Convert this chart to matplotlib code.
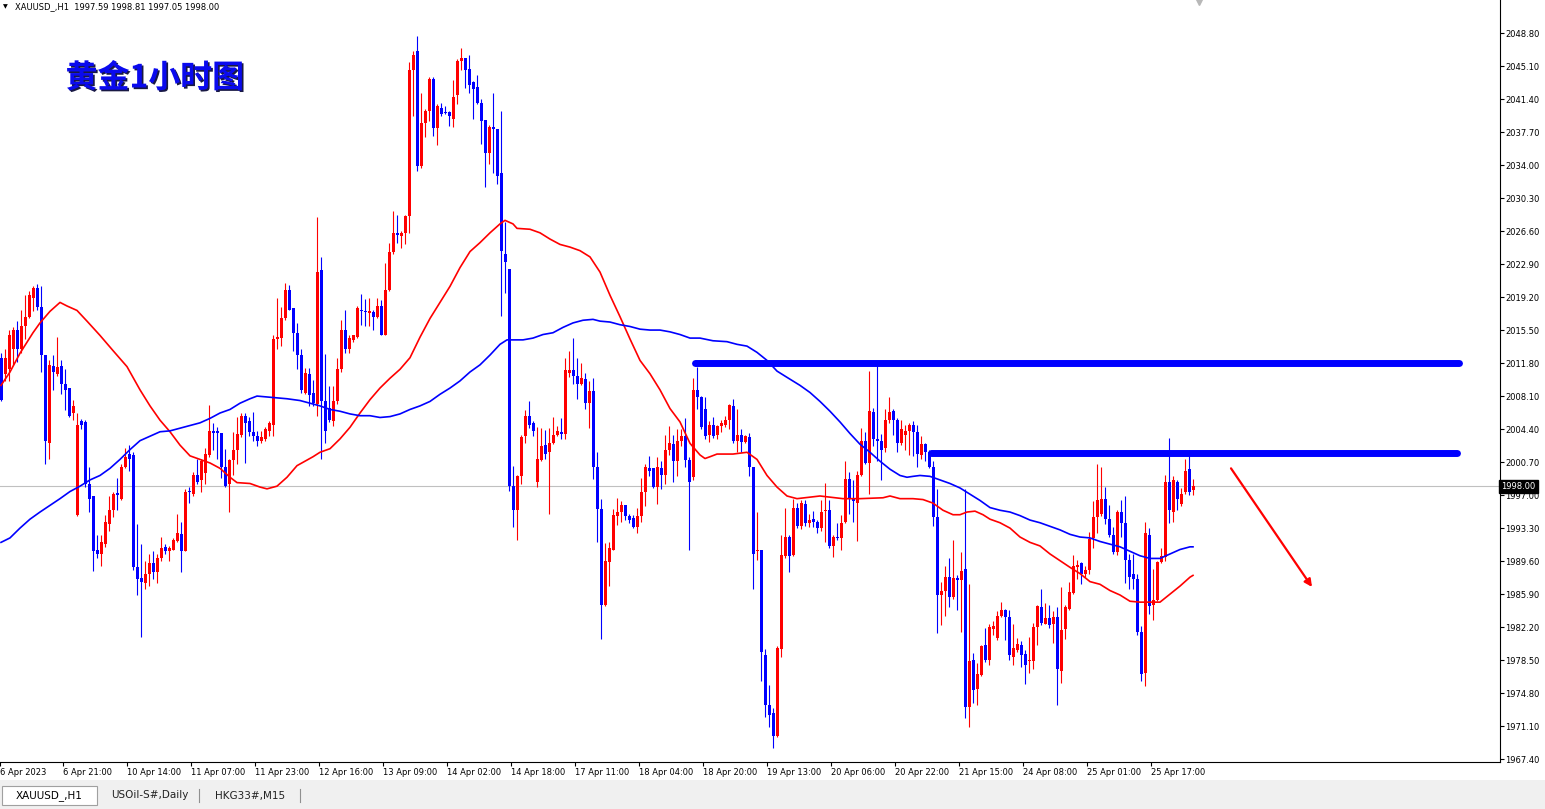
import matplotlib
matplotlib.use('Agg')
import matplotlib.pyplot as plt
import matplotlib.patheffects as pe
from matplotlib.patches import Rectangle
import numpy as np

# XAUUSD H1 candles (price units)
opens = [
    2012.4, 2010.6, 2011.1, 2013.4, 2015.5, 2013.4, 2016.0, 2017.0, 2019.1, 2020.2,
    2018.1, 2012.7, 2002.8, 2011.5, 2010.6, 2011.5, 2009.5, 2009.0, 2006.2, 1994.8,
    2005.3, 2005.2, 1998.2, 1996.9, 1990.8, 1990.4, 1991.5, 1993.8, 1995.3, 1997.2,
    1996.6, 2000.2, 2001.6, 2001.5, 1988.9, 1987.7, 1987.2, 1988.1, 1989.4, 1988.4,
    1989.9, 1991.2, 1990.7, 1990.9, 1991.8, 1992.6, 1990.7, 1997.5, 1997.1, 1999.2,
    1998.7, 1999.5, 2001.5, 2004.2, 2004.2, 2004.0, 2000.1, 1998.2, 2000.9, 2002.0,
    2003.7, 2005.9, 2005.3, 2004.1, 2003.6, 2003.1, 2003.3, 2004.2, 2004.9, 2014.5,
    2014.6, 2016.8, 2020.0, 2018.0, 2015.2, 2012.7, 2008.5, 2010.6, 2008.5, 2007.2,
    2022.2, 2007.5, 2006.8, 2005.3, 2007.5, 2011.1, 2015.5, 2013.4, 2014.4, 2014.7,
    2017.8, 2017.6, 2017.4, 2017.5, 2017.0, 2018.2, 2015.0, 2020.0, 2024.2, 2026.4,
    2026.1, 2026.4, 2028.3, 2044.7, 2046.8, 2033.9, 2038.75, 2040.05, 2043.7, 2038.1,
    2040.4, 2039.9, 2039.9, 2039.2, 2041.9, 2045.7, 2046.0, 2044.8, 2043.3, 2042.8,
    2041.0, 2039.0, 2035.4, 2038.3, 2038.0, 2033.1, 2024.0, 2022.4, 1998.0, 1995.3,
    1999.1, 2003.6, 2005.9, 2005.1, 1998.5, 2000.9, 2002.6, 2001.8, 2002.8, 2003.7,
    2004.1, 2003.9, 2010.7, 2011.0, 2010.3, 2009.4, 2010.0, 2007.3, 2008.7, 2000.1,
    1995.4, 1984.7, 1989.5, 1990.9, 1994.7, 1995.1, 1995.85, 1994.7, 1994.4, 1993.4,
    1994.7, 1997.4, 2000.0, 2000.0, 1997.9, 2000.0, 1999.2, 2002.0, 2002.7, 2000.8,
    2003.1, 2003.6, 2000.9, 1999.0, 2008.8, 2008.0, 2006.7, 2003.7, 2004.9, 2003.7,
    2004.7, 2004.9, 2005.4, 2007.0, 2003.1, 2003.7, 2003.0, 2003.5, 2000.1, 1990.7,
    1990.9, 1979.05, 1973.5, 1972.6, 1970.0, 1979.8, 1990.2, 1992.3, 1990.3, 1995.6,
    1993.5, 1996.0, 1993.9, 1994.3, 1994.0, 1993.3, 1995.2, 1995.3, 1991.3, 1992.3,
    1992.2, 1994.0, 1998.85, 1996.6, 1996.1, 1999.2, 2003.1, 2000.6, 2006.3, 2003.3,
    2003.1, 2002.3, 2005.4, 2006.45, 2005.4, 2002.8, 2003.7, 2004.2, 2004.9, 2004.1,
    2001.5, 2002.7, 2001.8, 2000.2, 1994.6, 1985.8, 1986.3, 1987.8, 1985.6, 1987.7,
    1987.5, 1988.7, 1973.2, 1978.5, 1975.3, 1976.8, 1980.2, 1978.5, 1982.0, 1981.0,
    1983.4, 1984.1, 1983.3, 1978.9, 1979.6, 1980.2, 1979.2, 1978.4, 1978.4, 1982.2,
    1984.5, 1982.5, 1983.2, 1982.5, 1983.3, 1977.3, 1982.0, 1984.2, 1986.0, 1988.9,
    1989.4, 1988.2, 1988.6, 1992.2, 1994.6, 1994.9, 1996.6, 1994.3, 1992.5, 1990.6,
    1995.1, 1993.9, 1989.75, 1988.1, 1987.6, 1981.6, 1977.1, 1992.5, 1984.7, 1985.25,
    1989.5, 1990.1, 1998.5, 1995.1, 1998.5, 1996.0, 1997.3, 1999.9, 1997.59,
]
highs = [
    2012.9, 2013.4, 2015.5, 2015.8, 2016.5, 2017.8, 2019.4, 2019.9, 2020.4, 2020.7,
    2020.4, 2012.7, 2012.1, 2012.7, 2014.7, 2012.1, 2011.1, 2009.0, 2007.7, 2006.2,
    2005.5, 2005.4, 2000.2, 1996.9, 1992.5, 1992.5, 1994.8, 1996.9, 1997.4, 1998.9,
    2000.5, 2002.3, 2002.6, 2001.8, 1993.8, 1991.5, 1989.65, 1990.4, 1990.7, 1990.4,
    1992.3, 1991.5, 1991.3, 1992.2, 1994.9, 1994.0, 1997.7, 1997.9, 1999.6, 2001.0,
    2001.0, 2002.3, 2007.1, 2005.1, 2004.6, 2004.0, 2002.2, 2001.0, 2004.1, 2005.8,
    2006.2, 2006.2, 2005.7, 2006.3, 2004.2, 2004.2, 2004.6, 2005.3, 2014.9, 2019.1,
    2018.1, 2020.8, 2020.6, 2018.0, 2016.3, 2013.4, 2011.2, 2011.2, 2009.9, 2028.2,
    2023.7, 2012.8, 2009.2, 2009.2, 2012.4, 2016.6, 2017.8, 2014.9, 2015.0, 2018.2,
    2019.5, 2019.0, 2019.1, 2017.7, 2019.1, 2018.9, 2023.0, 2025.3, 2028.9, 2028.4,
    2026.6, 2028.4, 2045.6, 2046.8, 2048.5, 2042.1, 2040.3, 2043.9, 2043.9, 2040.8,
    2040.9, 2040.6, 2040.05, 2043.5, 2045.9, 2047.1, 2046.0, 2046.3, 2043.4, 2044.1,
    2041.35, 2039.0, 2038.5, 2042.1, 2038.0, 2040.05, 2027.6, 2022.4, 2000.3, 1999.2,
    2003.7, 2006.5, 2007.5, 2005.3, 2004.6, 2004.5, 2004.3, 2004.5, 2005.8, 2004.7,
    2005.6, 2012.4, 2013.2, 2014.6, 2012.4, 2011.8, 2010.7, 2009.8, 2010.1, 2001.8,
    1996.6, 1991.6, 1991.7, 1995.4, 1996.7, 1996.3, 1995.85, 1994.9, 1994.8, 1995.6,
    1998.95, 2000.5, 2001.4, 2000.0, 2001.3, 2000.8, 2003.7, 2004.7, 2003.7, 2004.4,
    2004.4, 2005.6, 2001.3, 2010.1, 2011.4, 2008.1, 2008.0, 2005.3, 2005.8, 2004.9,
    2005.4, 2005.9, 2007.2, 2007.8, 2006.6, 2004.4, 2003.7, 2004.0, 2000.2, 1995.1,
    1990.9, 1979.8, 1975.7, 1973.1, 1980.1, 1992.5, 1995.6, 1992.5, 1996.6, 1996.1,
    1996.4, 1996.4, 1994.9, 1995.2, 1994.2, 1996.4, 1998.3, 1996.4, 1992.5, 1993.9,
    1994.8, 2000.8, 1999.6, 1998.7, 1999.7, 2004.5, 2004.1, 2010.95, 2006.8, 2012.0,
    2003.9, 2006.6, 2008.0, 2006.6, 2005.6, 2005.4, 2004.9, 2005.1, 2005.3, 2004.9,
    2003.6, 2002.8, 2002.0, 2000.8, 1997.7, 1987.3, 1989.0, 1989.9, 1992.0, 1988.0,
    1990.6, 1997.7, 1987.0, 1979.3, 1978.2, 1980.2, 1982.1, 1982.5, 1982.9, 1984.0,
    1985.0, 1984.2, 1984.1, 1982.5, 1981.0, 1980.6, 1979.6, 1981.1, 1982.7, 1984.7,
    1986.5, 1984.9, 1984.7, 1984.0, 1984.5, 1986.7, 1984.7, 1987.3, 1990.3, 1989.75,
    1989.5, 1989.0, 1992.85, 1996.3, 2000.5, 2000.2, 1997.9, 1995.85, 1993.4, 1995.3,
    1996.5, 1996.9, 1990.4, 1990.4, 1988.1, 1982.3, 1994.0, 1993.3, 1988.7, 1989.65,
    1991.1, 1999.2, 2003.35, 1999.1, 1998.7, 1997.8, 2001.1, 2002.05, 1998.81,
]
lows = [
    2007.5, 2009.8, 2009.8, 2011.6, 2011.9, 2012.9, 2014.5, 2016.8, 2017.6, 2017.8,
    2010.8, 2000.5, 2001.0, 2008.8, 2010.3, 2008.3, 2006.5, 2005.7, 2005.4, 1994.7,
    2004.4, 1997.9, 1995.1, 1988.5, 1989.9, 1989.1, 1991.2, 1993.0, 1994.6, 1995.3,
    1996.4, 2000.0, 1999.7, 1988.6, 1985.8, 1981.1, 1986.5, 1986.8, 1987.6, 1987.1,
    1989.65, 1990.4, 1989.65, 1990.8, 1991.7, 1988.4, 1990.7, 1996.1, 1996.9, 1998.2,
    1997.4, 1998.2, 2001.3, 2002.1, 2001.1, 1998.9, 1997.9, 1995.1, 1999.2, 2000.5,
    2003.5, 2000.6, 2003.6, 2003.1, 2002.5, 2002.8, 2003.1, 2003.6, 2003.6, 2013.4,
    2013.7, 2016.6, 2017.7, 2013.2, 2011.1, 2008.5, 2008.3, 2007.0, 2007.0, 2005.9,
    2001.0, 2002.8, 2005.2, 2004.7, 2007.2, 2010.8, 2012.9, 2012.9, 2014.2, 2014.6,
    2016.1, 2016.0, 2016.0, 2015.5, 2016.9, 2014.9, 2014.9, 2019.9, 2024.0, 2025.3,
    2024.7, 2025.1, 2026.4, 2039.5, 2033.3, 2033.7, 2037.1, 2038.9, 2037.2, 2036.3,
    2039.5, 2039.7, 2038.4, 2038.3, 2040.8, 2044.7, 2042.6, 2042.1, 2039.2, 2040.8,
    2036.4, 2031.5, 2034.1, 2033.1, 2031.9, 2017.1, 2019.6, 1997.5, 1993.4, 1992.0,
    1998.2, 2002.8, 2004.5, 2003.6, 1997.9, 2000.8, 2001.1, 1994.9, 2002.7, 2003.6,
    2003.3, 2003.3, 2010.2, 2009.5, 2007.8, 2009.3, 2006.6, 2004.5, 1998.8, 1991.7,
    1980.9, 1984.6, 1986.8, 1990.8, 1993.7, 1994.0, 1994.2, 1993.9, 1993.3, 1992.8,
    1994.0, 1995.75, 1999.1, 1997.8, 1996.0, 1997.7, 1998.2, 2001.5, 1998.5, 1999.1,
    2002.5, 2000.2, 1990.8, 1998.7, 2006.7, 2004.4, 2003.3, 2003.0, 2003.4, 2003.3,
    2004.1, 2004.6, 2004.4, 2002.8, 2001.8, 2001.8, 2002.8, 1999.1, 1986.5, 1989.75,
    1976.2, 1972.1, 1971.0, 1968.7, 1969.9, 1978.8, 1989.9, 1988.4, 1990.2, 1993.3,
    1993.2, 1993.5, 1993.4, 1993.4, 1992.75, 1993.0, 1991.7, 1991.1, 1990.1, 1992.0,
    1990.9, 1993.9, 1994.9, 1994.0, 1991.8, 1999.1, 2000.5, 1997.1, 2002.5, 2000.8,
    1998.7, 2001.8, 2005.1, 2003.7, 2001.8, 2002.6, 2002.1, 2001.5, 2001.4, 2000.1,
    2001.0, 2000.8, 2000.0, 1993.5, 1981.5, 1982.4, 1983.5, 1984.4, 1985.4, 1984.1,
    1981.6, 1972.0, 1971.0, 1973.7, 1973.5, 1976.7, 1978.3, 1978.0, 1981.3, 1980.8,
    1983.3, 1980.8, 1978.5, 1978.0, 1979.4, 1977.7, 1975.8, 1977.1, 1977.5, 1980.2,
    1982.4, 1982.5, 1982.1, 1980.4, 1973.5, 1975.9, 1980.9, 1984.1, 1985.9, 1987.6,
    1987.0, 1987.8, 1988.2, 1991.1, 1992.75, 1994.7, 1993.8, 1992.3, 1990.4, 1990.3,
    1992.3, 1987.1, 1986.5, 1986.5, 1981.3, 1976.2, 1975.6, 1983.7, 1983.0, 1985.1,
    1989.4, 1989.65, 1993.9, 1994.0, 1995.3, 1995.75, 1997.1, 1997.0, 1997.05,
]
closes = [
    2007.7, 2012.4, 2015.0, 2015.5, 2013.4, 2016.0, 2017.0, 2019.4, 2020.2, 2018.1,
    2012.7, 2003.1, 2011.6, 2010.8, 2011.4, 2009.5, 2008.8, 2005.9, 2007.0, 2004.9,
    2004.9, 1998.2, 1996.6, 1990.7, 1990.4, 1991.7, 1994.0, 1995.3, 1997.1, 1997.0,
    2000.2, 2001.3, 2001.1, 1988.9, 1987.6, 1987.3, 1988.1, 1989.4, 1988.4, 1989.9,
    1991.1, 1990.7, 1991.1, 1992.0, 1992.7, 1990.7, 1997.4, 1997.3, 1999.2, 1998.5,
    2000.8, 2001.6, 2004.2, 2004.0, 2004.0, 2000.1, 1998.0, 2000.9, 2002.1, 2003.9,
    2005.9, 2005.1, 2004.1, 2003.6, 2003.1, 2003.5, 2004.4, 2005.1, 2014.5, 2014.7,
    2016.9, 2020.0, 2017.8, 2015.2, 2012.7, 2008.8, 2010.7, 2008.2, 2007.3, 2022.0,
    2007.5, 2004.2, 2005.4, 2007.5, 2011.1, 2015.5, 2013.4, 2014.6, 2014.9, 2018.0,
    2017.6, 2017.5, 2017.6, 2017.0, 2018.2, 2015.0, 2020.0, 2024.2, 2026.4, 2026.2,
    2026.4, 2028.3, 2044.7, 2046.3, 2033.9, 2038.75, 2040.05, 2043.7, 2038.1, 2040.6,
    2039.7, 2039.8, 2039.5, 2041.6, 2045.7, 2046.0, 2044.7, 2043.0, 2042.5, 2041.0,
    2038.9, 2035.4, 2038.3, 2038.0, 2032.8, 2024.4, 2023.1, 1998.0, 1995.3, 1999.1,
    2003.5, 2005.9, 2004.9, 2004.2, 2001.0, 2002.5, 2001.6, 2002.8, 2003.7, 2004.2,
    2003.9, 2011.0, 2011.0, 2010.4, 2009.4, 2010.1, 2007.3, 2008.7, 2000.1, 1995.4,
    1984.7, 1989.65, 1991.1, 1994.8, 1995.1, 1995.85, 1994.7, 1994.2, 1993.4, 1994.7,
    1997.3, 2000.1, 1999.7, 1997.9, 2000.1, 1999.2, 2002.0, 2002.8, 2000.8, 2003.1,
    2003.6, 2000.9, 1998.5, 2008.8, 2008.0, 2004.6, 2003.6, 2004.9, 2003.6, 2004.7,
    2005.1, 2005.4, 2007.1, 2003.1, 2003.7, 2003.0, 2003.6, 2000.1, 1990.4, 1990.9,
    1979.4, 1973.5, 1972.3, 1970.0, 1979.9, 1990.3, 1992.3, 1990.2, 1995.6, 1993.5,
    1996.1, 1993.9, 1994.2, 1994.0, 1993.3, 1995.1, 1995.3, 1991.3, 1992.3, 1992.2,
    1993.9, 1998.85, 1996.6, 1996.3, 1999.2, 2003.1, 2000.6, 2006.45, 2003.3, 2003.1,
    2002.1, 2005.4, 2006.3, 2005.4, 2002.8, 2004.4, 2004.2, 2004.9, 2004.1, 2001.6,
    2002.7, 2001.8, 2000.1, 1994.6, 1985.8, 1986.3, 1987.8, 1985.6, 1987.7, 1987.5,
    1988.5, 1973.2, 1978.4, 1975.2, 1977.0, 1980.1, 1978.5, 1982.2, 1982.3, 1983.5,
    1984.1, 1983.3, 1979.05, 1979.9, 1980.3, 1979.05, 1978.0, 1978.5, 1982.2, 1984.6,
    1982.7, 1983.2, 1982.4, 1983.3, 1977.5, 1981.9, 1984.4, 1986.1, 1989.0, 1989.2,
    1988.2, 1988.6, 1992.1, 1994.6, 1996.5, 1996.6, 1994.3, 1992.5, 1990.6, 1995.1,
    1993.9, 1989.75, 1987.8, 1987.6, 1981.6, 1977.0, 1992.75, 1984.6, 1985.25, 1989.5,
    1990.2, 1998.5, 1995.3, 1998.7, 1996.6, 1997.1, 1999.7, 1997.4, 1998.00,
]

# moving averages, read at bar positions along each curve
red_ma_bars = [
    0, 2.25, 4.75, 8, 9.75, 12.25, 14.75, 16.5, 19, 21.5, 24.75, 28, 31.5, 34.75, 37.25,
    39.75, 42.25, 44.75, 47.25, 49.75, 52.25, 54.75, 57.25, 59, 62.25, 64.75, 66.5, 69,
    71.5, 74, 78, 79.75, 82.25, 84.75, 87.25, 89.75, 92.25, 94.75, 97.25, 99.75, 102.25,
    104.75, 107.25, 109.75, 112.25, 114.75, 117.25, 119.75, 122.25, 124.75, 126, 128, 129,
    132.25, 134.75, 137.25, 139.75, 142.25, 144.75, 147.25, 149.75, 152.25, 154.75, 157.25,
    159.75, 162.25, 164.75, 167.25, 169.75, 172.25, 174.75, 176, 177.25, 179, 183, 186.5,
    189, 191.5, 194, 196.5, 199, 204.75, 210.5, 214.75, 220.5, 222.25, 224.75, 228, 230.5,
    233, 235.5, 238, 239.75, 241.5, 243.5, 245.5, 247.25, 249.75, 252.25, 254.75, 257.25,
    259.75, 262.25, 264.75, 267.25, 269.75, 272.25, 274.75, 277.25, 279.75, 282.25, 284.75,
    287.25, 289.75, 292.25, 294.75, 297.25, 298,
]
red_ma = [
    2009.3, 2010.8, 2012.9, 2015.2, 2016.3, 2017.6, 2018.6, 2018.2, 2017.7, 2016.5, 2014.9,
    2013.2, 2011.4, 2008.8, 2007.0, 2005.4, 2004.1, 2002.6, 2001.4, 2001.0, 2000.6, 2000.0,
    1999.0, 1998.4, 1998.3, 1997.9, 1997.7, 1998.0, 1999.0, 2000.3, 2001.3, 2001.8, 2002.2,
    2003.3, 2004.6, 2006.2, 2007.7, 2009.0, 2010.1, 2011.1, 2012.4, 2014.7, 2016.8, 2018.6,
    2020.4, 2022.5, 2024.3, 2025.3, 2026.4, 2027.4, 2027.8, 2027.4, 2026.9, 2026.8, 2026.4,
    2025.7, 2025.1, 2024.8, 2024.4, 2023.7, 2022.0, 2019.4, 2017.0, 2014.5, 2012.1, 2010.6,
    2008.8, 2006.7, 2005.2, 2002.8, 2001.5, 2001.1, 2001.3, 2001.6, 2001.6, 2001.8, 2001.0,
    1999.2, 1997.9, 1996.9, 1996.6, 1996.9, 1996.6, 1996.6, 1996.7, 1996.9, 1996.6, 1996.6,
    1996.5, 1996.1, 1995.3, 1994.8, 1994.8, 1995.1, 1995.2, 1994.8, 1994.3, 1993.9, 1993.3,
    1992.3, 1991.7, 1991.3, 1990.4, 1989.65, 1988.9, 1988.2, 1987.3, 1987.0, 1986.3, 1985.8,
    1985.1, 1985.0, 1985.0, 1985.0, 1985.9, 1986.8, 1987.8, 1988.0,
]
blue_ma_bars = [
    0, 2.25, 4.75, 7.25, 9.75, 12.25, 14.75, 17.25, 19.75, 22.25, 24.75, 27.25, 29.75,
    32.25, 34.75, 37.25, 39.75, 42.25, 44.75, 47.25, 49.75, 52.25, 54.75, 57.25, 59.75,
    62.25, 64, 66.5, 69, 71.5, 74.75, 77.25, 79.75, 82.25, 84.75, 87.25, 89.75, 92.25,
    94.75, 97.25, 99.75, 102.25, 104.75, 107.25, 109.75, 112.25, 114.75, 117.25, 119.75,
    122.25, 124.75, 126.5, 130.5, 133, 135.5, 138, 140.5, 143, 145.5, 148, 149.75, 152.25,
    154.75, 157.25, 159.75, 162.25, 164.75, 167.25, 169.75, 172.25, 174.75, 178, 181.5,
    184, 186.5, 189, 191.5, 194, 196.5, 199.75, 202.25, 204.75, 207.25, 209.75, 212.25,
    214.75, 217.25, 219.75, 222.25, 224.75, 226.5, 228, 229.75, 232.25, 234.75, 237.25,
    239.75, 242.25, 244.75, 247.25, 249.75, 252.25, 254.75, 257.25, 259.75, 262.25,
    264.75, 267.25, 269.75, 272.25, 274.75, 277.25, 279.75, 282.25, 284.75, 287.25,
    289.75, 292.25, 294.75, 297.25, 298,
]
blue_ma = [
    1991.7, 1992.2, 1993.3, 1994.3, 1995.1, 1995.85, 1996.6, 1997.4, 1998.0, 1998.7,
    1999.2, 2000.0, 2001.0, 2002.1, 2003.1, 2003.6, 2004.1, 2004.2, 2004.5, 2004.8,
    2005.1, 2005.6, 2006.2, 2006.6, 2007.3, 2007.8, 2008.1, 2008.0, 2007.9, 2007.8,
    2007.6, 2007.3, 2007.0, 2006.6, 2006.4, 2006.1, 2005.9, 2005.9, 2005.7, 2005.8,
    2006.1, 2006.6, 2007.0, 2007.5, 2008.3, 2009.0, 2009.8, 2010.8, 2011.6, 2012.7,
    2013.9, 2014.4, 2014.4, 2014.6, 2015.0, 2015.2, 2015.8, 2016.3, 2016.6, 2016.7,
    2016.5, 2016.4, 2016.1, 2015.9, 2015.6, 2015.5, 2015.5, 2015.3, 2015.0, 2014.6,
    2014.6, 2014.3, 2014.2, 2013.9, 2013.7, 2013.0, 2012.1, 2010.9, 2010.2, 2009.3,
    2008.5, 2007.5, 2006.4, 2005.2, 2003.9, 2002.7, 2001.8, 2000.8, 1999.9, 1999.2,
    1999.0, 1999.1, 1999.2, 1999.1, 1998.7, 1998.3, 1997.8, 1997.1, 1996.4, 1995.6,
    1995.3, 1995.1, 1994.7, 1994.2, 1993.9, 1993.5, 1993.1, 1992.6, 1992.3, 1992.2,
    1991.8, 1991.5, 1991.2, 1990.7, 1990.2, 1989.9, 1989.9, 1990.4, 1990.9, 1991.2,
    1991.2,
]

# resistance lines drawn by hand on the chart
res_levels = [2011.8, 2001.7]
res_start = [173.6, 232.6]
res_end = [364.6, 363.9]

price_ticks = [round(1967.4 + 3.7 * k, 2) for k in range(23)]
time_ticks = [-0.25] + [15.5 + 16 * k for k in range(18)]
time_labels = ['6 Apr 2023', '6 Apr 21:00', '10 Apr 14:00', '11 Apr 07:00', '11 Apr 23:00',
               '12 Apr 16:00', '13 Apr 09:00', '14 Apr 02:00', '14 Apr 18:00', '17 Apr 11:00',
               '18 Apr 04:00', '18 Apr 20:00', '19 Apr 13:00', '20 Apr 06:00', '20 Apr 22:00',
               '21 Apr 15:00', '24 Apr 08:00', '25 Apr 01:00', '25 Apr 17:00']
last_price = 1998.00

W, H = 1545, 809
fig = plt.figure(figsize=(W / 100, H / 100), dpi=100)
fig.patch.set_facecolor('white')
ax = fig.add_axes([0, 47 / H, 1500 / W, 762 / H])

o = np.array(opens); hi = np.array(highs); lo = np.array(lows); c = np.array(closes)
x = np.arange(len(c))
cols = np.where(c >= o, '#ff0000', '#0000ff')

ax.axhline(last_price, color='#c0c0c0', lw=0.8, zorder=1)
ax.vlines(x, lo, hi, colors=cols, lw=0.8, zorder=3)
ax.bar(x, np.maximum(np.abs(c - o), 0.12), bottom=np.minimum(o, c), width=0.75,
       color=cols, linewidth=0, zorder=3)

ax.plot(red_ma_bars, red_ma, color='#ff0000', lw=1.2, zorder=4)
ax.plot(blue_ma_bars, blue_ma, color='#0000ff', lw=1.2, zorder=4)

for lev, s, e in zip(res_levels, res_start, res_end):
    ax.plot([s, e], [lev, lev], color='#0000ff', lw=5, solid_capstyle='round', zorder=5)

ax.annotate('', xy=(327.75, 1986.7), xytext=(307.5, 2000.0),
            arrowprops=dict(arrowstyle='-|>', color='#ff0000', lw=1.6,
                            mutation_scale=11, shrinkA=0, shrinkB=0))

ax.set_xlim(-0.25, 374.75)
ax.set_ylim(1967.08, 2052.5)

ax.yaxis.tick_right()
ax.set_yticks(price_ticks)
ax.set_yticklabels([f'{v:.2f}' for v in price_ticks])
ax.tick_params(axis='y', direction='out', length=3, width=0.8, labelsize=6, pad=1)
ax.set_xticks(time_ticks)
ax.set_xticklabels(time_labels)
for t in ax.get_xticklabels():
    t.set_horizontalalignment('left')
ax.tick_params(axis='x', direction='out', length=3, width=0.8, labelsize=6, pad=1.5)

for side in ['top', 'left']:
    ax.spines[side].set_visible(False)
for side in ['right', 'bottom']:
    ax.spines[side].set_linewidth(0.8)

# current price box on the price scale
ax.text(1.001, last_price, f'{last_price:.2f}', transform=ax.get_yaxis_transform(),
        fontsize=6, color='white', va='center', ha='left',
        bbox=dict(boxstyle='square,pad=0.25', fc='black', ec='black'), zorder=10, clip_on=False)

# chart shift marker
ax.plot([299.5], [2052.5], marker='v', ms=7, color='#b8b8b8', clip_on=False, zorder=6)

ax.text(0.1033, 0.897, '黄金1小时图', transform=ax.transAxes, ha='center', va='center',
        fontsize=23, fontweight='bold', color='#0a0aee',
        family=['Noto Sans CJK SC', 'DejaVu Sans'],
        path_effects=[pe.SimplePatchShadow(offset=(1.2, -1.2), shadow_rgbFace='#000030', alpha=0.9),
                      pe.Normal()])

fig.text(3 / W, 1 - 7 / H, '▼', fontsize=4.5, va='center', ha='left')
fig.text(15 / W, 1 - 7 / H, 'XAUUSD_,H1  1997.59 1998.81 1997.05 1998.00', fontsize=6,
         va='center', ha='left')

# symbol tabs at the bottom
tab = fig.add_axes([0, 0, 1, 29 / H])
tab.set_xlim(0, W)
tab.set_ylim(0, 29)
tab.axis('off')
tab.add_patch(Rectangle((0, 0), W, 29, fc='#f0f0f0', ec='none'))
tab.add_patch(Rectangle((2, 4), 95, 19, fc='white', ec='#a0a0a0', lw=0.8))
tab.text(49, 13.5, 'XAUUSD_,H1', fontsize=7.5, ha='center', va='center')
tab.text(150, 13.5, 'USOil-S#,Daily', fontsize=7.5, ha='center', va='center', color='#222222')
tab.text(250, 13.5, 'HKG33#,M15', fontsize=7.5, ha='center', va='center', color='#222222')
for sx in [199, 300]:
    tab.plot([sx, sx], [7, 20], color='#909090', lw=0.8)

fig.savefig('out.png', dpi=100)
